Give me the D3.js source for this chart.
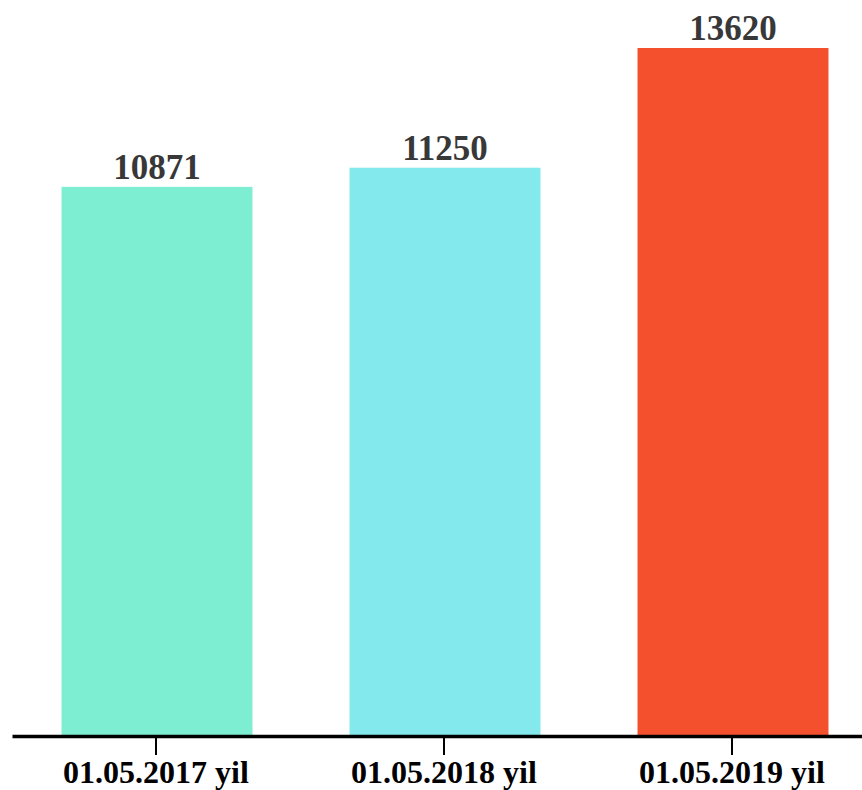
<!DOCTYPE html>
<meta charset="utf-8">
<style>
    body
    {
        margin:0;
        background:#fff;
    }
    .value
    {
        font-family:"Liberation Serif","Times New Roman",serif;
        font-weight:bold;
        font-size:35px;
        fill:#383838;
    }
    .xAxis text
    {
        font-family:"Liberation Serif","Times New Roman",serif;
        font-weight:bold;
        font-size:32px;
        fill:#000;
    }
</style>
<script src="https://d3js.org/d3.v7.min.js"></script>
<svg id="barChart"></svg>
<script>
    var dates = ["01.05.2017 yil","01.05.2018 yil","01.05.2019 yil"];
    var counts = [10871,11250,13620];
    var colors = ["#7deed2","#83e9ed","#f5502d"];

    var screen = {width:862,height:790};
    var baseline = 736;
    var plotTop = 48;

    var svg = d3.select("#barChart")
        .attr("width",screen.width)
        .attr("height",screen.height);

    var xScale = d3.scaleBand()
        .domain(dates)
        .range([12,876])
        .paddingInner(0.337)
        .paddingOuter(0.1685);
    var yScale = d3.scaleLinear()
        .domain([0,d3.max(counts)])
        .range([baseline,plotTop]);

    var rows = dates.map(function(d,i){ return {date:d,count:counts[i],color:colors[i]}; });

    // bars are nudged one pixel right of the band start
    svg.selectAll("rect")
        .data(rows)
        .enter()
        .append("rect")
        .attr("x",function(d){ return xScale(d.date) + 1; })
        .attr("y",function(d){ return yScale(d.count); })
        .attr("width",xScale.bandwidth())
        .attr("height",function(d){ return baseline - yScale(d.count); })
        .attr("fill",function(d){ return d.color; });

    svg.selectAll(".value")
        .data(rows)
        .enter()
        .append("text")
        .attr("class","value")
        .attr("x",function(d){ return xScale(d.date) + xScale.bandwidth()/2 + 1; })
        .attr("y",function(d){ return yScale(d.count) - 8; })
        .attr("text-anchor","middle")
        .text(function(d){ return d.count; });

    var xAxis = d3.axisBottom(xScale)
        .tickSizeInner(19)
        .tickSizeOuter(0)
        .tickPadding(5);

    var axisG = svg.append("g")
        .attr("class","xAxis")
        .attr("transform","translate(0,"+baseline+")")
        .call(xAxis);
    axisG.select(".domain")
        .attr("stroke","#000")
        .attr("stroke-width",3.5);
    axisG.selectAll(".tick line")
        .attr("stroke","#000")
        .attr("stroke-width",2);
    axisG.attr("font-size",null).attr("font-family",null);
</script>
